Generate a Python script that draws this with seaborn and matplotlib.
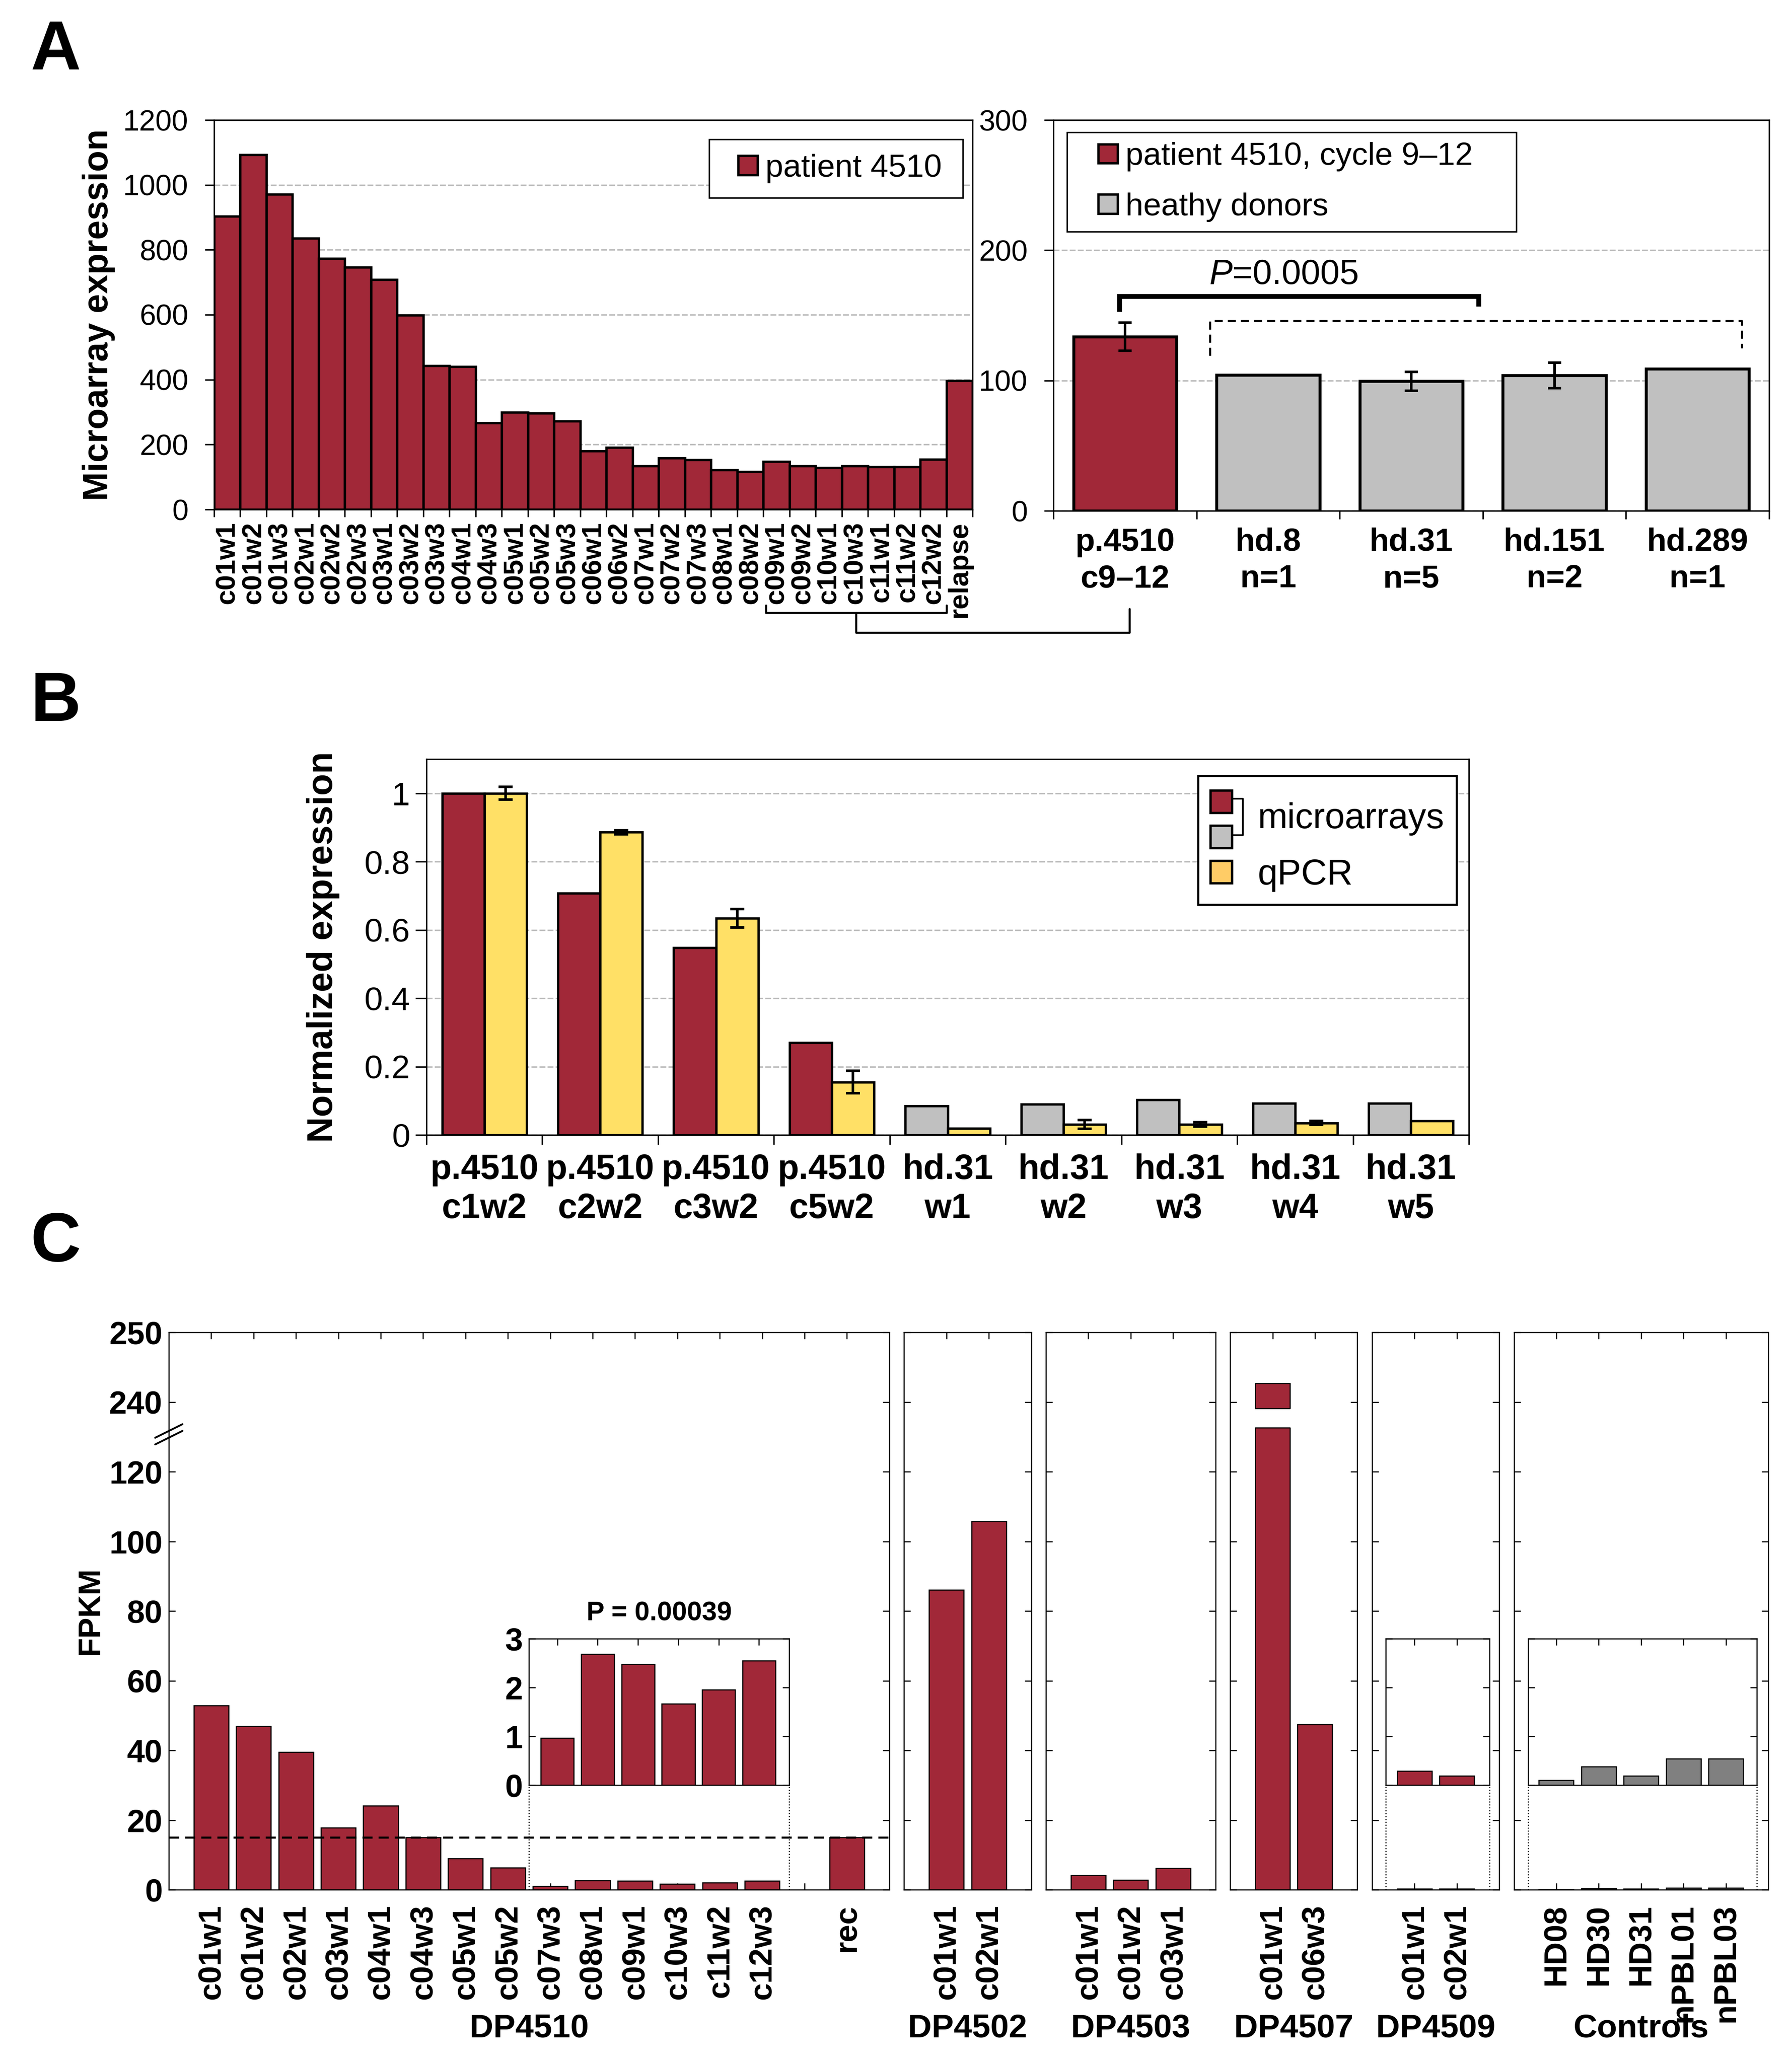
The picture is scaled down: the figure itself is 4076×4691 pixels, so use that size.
import numpy as np
import pandas as pd
import matplotlib
matplotlib.use("Agg")
import matplotlib.pyplot as plt
import seaborn as sns
from matplotlib.patches import Patch, Rectangle
from matplotlib.lines import Line2D
from matplotlib.legend_handler import HandlerPatch

# ---------------------------------------------------------------- data
# Panel A (left): microarray expression, patient 4510
a_samples = ["c01w1", "c01w2", "c01w3", "c02w1", "c02w2", "c02w3", "c03w1", "c03w2",
             "c03w3", "c04w1", "c04w3", "c05w1", "c05w2", "c05w3", "c06w1", "c06w2",
             "c07w1", "c07w2", "c07w3", "c08w1", "c08w2", "c09w1", "c09w2", "c10w1",
             "c10w3", "c11w1", "c11w2", "c12w2", "relapse"]
a_values = [903, 1093, 971, 836, 773, 746, 709, 599, 443, 440, 267, 300, 296, 272,
            180, 191, 134, 159, 153, 122, 116, 148, 134, 129, 134, 132, 131, 155, 397]
a_pool_first, a_pool_last = "c09w1", "c12w2"
a_legend = "patient 4510"

# Panel A (right): cycles 9-12 vs healthy donors
a2_groups = ["p.4510\nc9\u201312", "hd.8\nn=1", "hd.31\nn=5", "hd.151\nn=2", "hd.289\nn=1"]
a2_values = [133.7, 104.3, 99.5, 104.0, 109.0]
a2_errors = [10.8, 0.0, 7.3, 9.7, 0.0]
a2_kind = ["patient 4510, cycle 9\u201312", "heathy donors", "heathy donors",
           "heathy donors", "heathy donors"]
a2_pvalue = r"$\mathit{P}$=0.0005"

# Panel B: normalized expression
b_samples = ["p.4510\nc1w2", "p.4510\nc2w2", "p.4510\nc3w2", "p.4510\nc5w2",
             "hd.31\nw1", "hd.31\nw2", "hd.31\nw3", "hd.31\nw4", "hd.31\nw5"]
b_source = ["patient"] * 4 + ["donor"] * 5
b_microarray = [1.0, 0.707, 0.548, 0.270, 0.085, 0.090, 0.103, 0.092, 0.093]
b_qpcr = [1.0, 0.886, 0.634, 0.155, 0.019, 0.031, 0.031, 0.035, 0.041]
b_qpcr_err = [0.019, 0.006, 0.027, 0.033, 0.0, 0.013, 0.006, 0.006, 0.0]

# Panel C: FPKM
c4510_samples = ["c01w1", "c01w2", "c02w1", "c03w1", "c04w1", "c04w3", "c05w1",
                 "c05w2", "c07w3", "c08w1", "c09w1", "c10w3", "c11w2", "c12w3", "rec"]
c4510_values = [52.9, 46.9, 39.5, 17.8, 24.1, 15.0, 9.0, 6.3, 0.97, 2.69, 2.48,
                1.67, 1.96, 2.55, 15.0]
c4510_inset = ["c07w3", "c08w1", "c09w1", "c10w3", "c11w2", "c12w3"]
c4510_pvalue = "P = 0.00039"
c4502_samples = ["c01w1", "c02w1"]
c4502_values = [86.0, 105.7]
c4503_samples = ["c01w1", "c01w2", "c03w1"]
c4503_values = [4.2, 2.8, 6.2]
c4507_samples = ["c01w1", "c06w3"]
c4507_values = [242.7, 47.4]
c4509_samples = ["c01w1", "c02w1"]
c4509_values = [0.29, 0.19]
ctrl_samples = ["HD08", "HD30", "HD31", "nPBL01", "nPBL03"]
ctrl_values = [0.10, 0.38, 0.19, 0.54, 0.54]
c_yticks = [0, 20, 40, 60, 80, 100, 120, 240, 250]

# ---------------------------------------------------------------- style
sns.set_style("white")
plt.rcParams["font.family"] = ["Liberation Sans", "DejaVu Sans"]
plt.rcParams.update({
    "axes.edgecolor": "black", "axes.labelcolor": "black", "text.color": "black",
    "xtick.color": "black", "ytick.color": "black",
    "mathtext.fontset": "custom", "mathtext.rm": "Liberation Sans",
    "mathtext.it": "Liberation Sans:italic", "mathtext.bf": "Liberation Sans:bold",
})
RED = "#A12838"
LGRAY = "#C0C0C0"
YEL = "#FFE066"
YEL_LEG = "#FFCC66"
DGRAY = "#808080"
GRID = dict(color="#BBBBBB", linewidth=0.8, linestyle=(0, (4, 1.5)))

W, H = 4076, 4691
fig = plt.figure(figsize=(W / 300, H / 300), dpi=300)


def box(l, t, r, b):
    return [l / W, 1 - b / H, (r - l) / W, (b - t) / H]


def to_fig_x(ax, x):
    px = ax.transData.transform((x, 0))[0]
    return px / fig.bbox.width


def _right_square(legend, orig_handle, xdescent, ydescent, width, height, fontsize):
    # square legend key placed at the right end of the handle box
    return Rectangle((-xdescent + width - height, -ydescent), height, height)


SQUARE_KEY = {Patch: HandlerPatch(patch_func=_right_square)}

# ================================================================ Panel A left
axA = fig.add_axes(box(487, 273, 2212, 1159))
dfA = pd.DataFrame({"sample": a_samples, "value": a_values})
sns.barplot(data=dfA, x="sample", y="value", color=RED, saturation=1, width=1.0,
            edgecolor="black", linewidth=1.3, errorbar=None, ax=axA)
axA.set_xlim(-0.5, len(a_samples) - 0.5)
axA.set_ylim(0, 1200)
axA.set_yticks(range(0, 1201, 200), labels=[str(v) for v in range(0, 1201, 200)], fontsize=16)
axA.set_xticks(range(len(a_samples)), labels=a_samples, rotation=90,
               fontweight="bold", fontsize=15)
axA.set_xticks(np.arange(len(a_samples) + 1) - 0.5, minor=True)
axA.tick_params(axis="x", which="major", length=0, pad=6.5)
axA.tick_params(axis="x", which="minor", length=4, width=0.8, direction="out", bottom=True)
axA.tick_params(axis="y", length=5, width=0.8, direction="out", left=True, pad=9)
axA.yaxis.grid(True, **GRID)
axA.set_axisbelow(True)
axA.set_xlabel("")
axA.set_ylabel("Microarray expression", fontsize=19, fontweight="bold", va="center")
axA.yaxis.set_label_coords(-0.152, 0.5)
for s in axA.spines.values():
    s.set_linewidth(0.8)
lgA = axA.legend(handles=[Patch(facecolor=RED, edgecolor="black", linewidth=1.3)],
                 labels=[a_legend], loc="upper left", bbox_to_anchor=(0.653, 0.796, 0.334, 0.154),
                 mode="expand", borderaxespad=0, fontsize=17.5, frameon=True, fancybox=False,
                 edgecolor="black", framealpha=1, handlelength=1.05, handleheight=0.55,
                 handletextpad=0.25, borderpad=0.45, handler_map=SQUARE_KEY)
lgA.get_frame().set_linewidth(0.8)

# ================================================================ Panel A right
axA2 = fig.add_axes(box(2396, 273, 4024, 1162))
dfA2 = pd.DataFrame({"group": a2_groups, "value": a2_values, "kind": a2_kind})
kinds = list(dict.fromkeys(a2_kind))
sns.barplot(data=dfA2, x="group", y="value", hue="kind", hue_order=kinds,
            palette={kinds[0]: RED, kinds[1]: LGRAY}, dodge=False, saturation=1,
            width=0.72, edgecolor="black", linewidth=1.6, errorbar=None,
            legend=False, ax=axA2)
xa2 = np.arange(len(a2_groups))
err = np.array(a2_errors)
m = err > 0
axA2.errorbar(xa2[m], np.array(a2_values)[m], yerr=err[m], fmt="none",
              ecolor="black", elinewidth=1.4, capsize=3.6, capthick=1.4, zorder=5)
axA2.set_xlim(-0.5, len(a2_groups) - 0.5)
axA2.set_ylim(0, 300)
axA2.set_yticks([0, 100, 200, 300], labels=["0", "100", "200", "300"], fontsize=16)
axA2.set_xticks(xa2, labels=a2_groups, fontweight="bold", fontsize=17.5, linespacing=1.3)
axA2.set_xticks(np.arange(len(a2_groups) + 1) - 0.5, minor=True)
axA2.tick_params(axis="x", which="major", length=0, pad=9)
axA2.tick_params(axis="x", which="minor", length=4.5, width=0.8, direction="out", bottom=True)
axA2.tick_params(axis="y", length=5, width=0.8, direction="out", left=True, pad=9)
axA2.yaxis.grid(True, **GRID)
axA2.set_axisbelow(True)
axA2.set_xlabel("")
axA2.set_ylabel("")
for s in axA2.spines.values():
    s.set_linewidth(0.8)
# significance brackets
axA2.plot([-0.04, -0.04, 2.47, 2.47], [152.8, 164.8, 164.8, 157.0], color="black",
          lw=2.6, solid_joinstyle="miter", solid_capstyle="butt", zorder=6)
axA2.plot([0.594, 0.594, 4.31, 4.31], [119.0, 145.8, 145.8, 124.8], color="black",
          lw=1.1, linestyle=(0, (4, 2.5)), zorder=6)
axA2.text(1.11, 181.0, a2_pvalue, ha="center", va="center", fontsize=19)
lg2 = axA2.legend(handles=[Patch(facecolor=RED, edgecolor="black", linewidth=1.3),
                           Patch(facecolor=LGRAY, edgecolor="black", linewidth=1.3)],
                  labels=kinds, loc="upper left", bbox_to_anchor=(0.019, 0.719, 0.628, 0.249),
                  mode="expand", borderaxespad=0, fontsize=17.5, frameon=True, fancybox=False,
                  edgecolor="black", framealpha=1, handlelength=1.28, handleheight=0.55,
                  handletextpad=0.25, borderpad=0.3, labelspacing=0.65,
                  handler_map=SQUARE_KEY)
lg2.get_frame().set_linewidth(0.8)

# bracket linking cycles 9-12 to the right chart
i0 = a_samples.index(a_pool_first) - 0.4
i1 = a_samples.index(a_pool_last) + 0.5
imid = (i0 + i1) / 2
fx0, fx1, fxm = to_fig_x(axA, i0), to_fig_x(axA, i1), to_fig_x(axA, imid)
fxr = to_fig_x(axA2, 0.03)
fy = lambda py: 1 - py / H
fig.add_artist(Line2D([fx0, fx0, fx1, fx1], [fy(1377), fy(1394), fy(1394), fy(1377)],
                      color="black", lw=1.1, transform=fig.transFigure))
fig.add_artist(Line2D([fxm, fxm, fxr, fxr], [fy(1394), fy(1439), fy(1439), fy(1385)],
                      color="black", lw=1.1, transform=fig.transFigure))

# ================================================================ Panel B
axB = fig.add_axes(box(970, 1727, 3341, 2582))
dfB = pd.DataFrame({
    "sample": b_samples * 2,
    "value": b_microarray + b_qpcr,
    "method": ["microarrays"] * len(b_samples) + ["qPCR"] * len(b_samples),
})
sns.barplot(data=dfB, x="sample", y="value", hue="method", hue_order=["microarrays", "qPCR"],
            palette={"microarrays": RED, "qPCR": YEL}, saturation=1, width=0.73,
            edgecolor="black", linewidth=1.3, errorbar=None, legend=False, ax=axB)
for bar, src in zip(axB.containers[0], b_source):
    if src == "donor":
        bar.set_facecolor(LGRAY)
qx = np.array([b.get_x() + b.get_width() / 2 for b in axB.containers[1]])
qe = np.array(b_qpcr_err)
mq = qe > 0
axB.errorbar(qx[mq], np.array(b_qpcr)[mq], yerr=qe[mq], fmt="none", ecolor="black",
             elinewidth=1.4, capsize=3.8, capthick=1.4, zorder=5)
axB.set_xlim(-0.5, len(b_samples) - 0.5)
axB.set_ylim(0, 1.1)
axB.set_yticks([0, 0.2, 0.4, 0.6, 0.8, 1.0], labels=["0", "0.2", "0.4", "0.6", "0.8", "1"],
               fontsize=18)
axB.set_xticks(range(len(b_samples)), labels=b_samples, fontweight="bold", fontsize=19,
               linespacing=1.25)
axB.set_xticks(np.arange(len(b_samples) + 1) - 0.5, minor=True)
axB.tick_params(axis="x", which="major", length=0, pad=10)
axB.tick_params(axis="x", which="minor", length=5.3, width=0.8, direction="out", bottom=True)
axB.tick_params(axis="y", length=6, width=0.8, direction="out", left=True, pad=3)
axB.yaxis.grid(True, **GRID)
axB.set_axisbelow(True)
axB.set_xlabel("")
axB.set_ylabel("Normalized expression", fontsize=19.5, fontweight="bold", va="center")
axB.yaxis.set_label_coords(-(970 - 735) / (3341 - 970), 0.5)
for s in axB.spines.values():
    s.set_linewidth(0.8)
legB = axB.legend(handles=[Patch(facecolor=RED, edgecolor="black", linewidth=1.3),
                           Patch(facecolor=LGRAY, edgecolor="black", linewidth=1.3),
                           Patch(facecolor=YEL_LEG, edgecolor="black", linewidth=1.3)],
                  labels=["microarrays", " ", "qPCR"], loc="upper left",
                  bbox_to_anchor=(0.740, 0.956), borderaxespad=0, fontsize=19.5,
                  frameon=True, fancybox=False, edgecolor="black", framealpha=1,
                  handlelength=0.6, handleheight=0.6, handletextpad=0.72,
                  borderpad=0.35, labelspacing=0.05)
legB.get_frame().set_linewidth(1.2)

# ================================================================ Panel C
def fwd(y):
    y = np.asarray(y, dtype=float)
    return np.where(y <= 120, y, np.where(y <= 240, 120 + (y - 120) / 6.0, 140 + (y - 240) * 2.0))


def inv(u):
    u = np.asarray(u, dtype=float)
    return np.where(u <= 120, u, np.where(u <= 140, 120 + (u - 120) * 6.0, 240 + (u - 140) / 2.0))


C_TOP, C_BOT = 3031, 4299
UNIT, GAP, CX0 = 96.4, 33.5, 384.0
panels = [
    ("DP4510", c4510_samples, c4510_values, RED),
    ("DP4502", c4502_samples, c4502_values, RED),
    ("DP4503", c4503_samples, c4503_values, RED),
    ("DP4507", c4507_samples, c4507_values, RED),
    ("DP4509", c4509_samples, c4509_values, RED),
    ("Controls", ctrl_samples, ctrl_values, DGRAY),
]
c_axes = {}
left = CX0
for name, samples, values, color in panels:
    order = list(samples)
    if name == "DP4510":
        order = samples[:-1] + [" "] + samples[-1:]
    nunits = len(order) + 1
    right = left + nunits * UNIT
    ax = fig.add_axes(box(left, C_TOP, right, C_BOT))
    left = right + GAP
    df = pd.DataFrame({"sample": samples, "FPKM": values})
    sns.barplot(data=df, x="sample", y="FPKM", order=order, color=color, saturation=1,
                width=0.82, edgecolor="black", linewidth=0.6, errorbar=None, ax=ax)
    ax.set_yscale("function", functions=(fwd, inv))
    ax.set_ylim(0, 250)
    ax.set_xlim(-1, len(order))
    ax.set_yticks(c_yticks, labels=[str(v) for v in c_yticks], fontweight="bold", fontsize=17.5)
    ax.yaxis.set_minor_locator(matplotlib.ticker.NullLocator())
    ax.set_xticks(range(len(order)), labels=order, rotation=90, fontweight="bold", fontsize=17.3)
    ax.tick_params(axis="both", which="major", direction="in", length=3.5, width=0.6,
                   top=True, right=True, bottom=True, left=True)
    ax.tick_params(axis="x", pad=8)
    ax.tick_params(axis="y", pad=3.5, labelleft=(name == "DP4510"))
    ax.set_xlabel("")
    ax.set_ylabel("")
    for s in ax.spines.values():
        s.set_linewidth(0.6)
    ax.text(0.5, -0.249, name, transform=ax.transAxes, ha="center", va="center",
            fontsize=18, fontweight="bold")
    c_axes[name] = ax

# DP4510 details
ax10 = c_axes["DP4510"]
ax10.set_ylabel("FPKM", fontsize=17, fontweight="bold", va="center")
ax10.yaxis.set_label_coords(-0.1085, 0.5)
ax10.axhline(c4510_values[c4510_samples.index("rec")], color="black", lw=1.1,
             linestyle=(0, (5, 3)), zorder=4)
for yc in (0.823, 0.811):
    ax10.plot([-0.019, 0.019], [yc - 0.0122, yc + 0.0122], transform=ax10.transAxes,
              color="black", lw=1.0, clip_on=False, zorder=6)

# DP4507 broken bar
ax07 = c_axes["DP4507"]
bar07 = ax07.patches[c4507_samples.index("c01w1")]
bx, bw = bar07.get_x(), bar07.get_width()
ax07.add_patch(Rectangle((bx - 0.02, 196), bw + 0.04, 33, facecolor="white",
                         edgecolor="none", zorder=3))
ax07.plot([bx, bx + bw], [196, 196], color="black", lw=0.6, zorder=3.1)
ax07.plot([bx, bx + bw], [229, 229], color="black", lw=0.6, zorder=3.1)


def add_inset(ax, x0, x1, samples, values, color, xlim, labels=False, title=None):
    ins = ax.inset_axes([x0, 30, x1 - x0, 42], transform=ax.transData)
    df = pd.DataFrame({"sample": samples, "FPKM": values})
    sns.barplot(data=df, x="sample", y="FPKM", order=samples, color=color, saturation=1,
                width=0.82, edgecolor="black", linewidth=0.6, errorbar=None, ax=ins)
    ins.set_xlim(*xlim)
    ins.set_ylim(0, 3)
    ins.set_yticks([0, 1, 2, 3], labels=["0", "1", "2", "3"], fontweight="bold", fontsize=17.5)
    ins.set_xlabel("")
    ins.set_ylabel("")
    ins.tick_params(axis="both", direction="in", length=3.5, width=0.6, top=True,
                    right=True, left=True, bottom=False, labelbottom=False,
                    labelleft=labels, pad=3.5)
    for s in ins.spines.values():
        s.set_linewidth(0.6)
    if title:
        ins.set_title(title, fontsize=14.7, fontweight="bold", pad=10)
    for xx in (x0, x1):
        ax.plot([xx, xx], [0, 30], color="black", lw=0.6, linestyle=":", zorder=4)
    return ins


inset_vals = [c4510_values[c4510_samples.index(s)] for s in c4510_inset]
add_inset(ax10, 7.5, 13.64, c4510_inset, inset_vals, RED, (-0.7, 5.75), labels=True,
          title=c4510_pvalue)
add_inset(c_axes["DP4509"], -0.68, 1.77, c4509_samples, c4509_values, RED, (-0.68, 1.77))
add_inset(c_axes["Controls"], -0.66, 4.73, ctrl_samples, ctrl_values, DGRAY, (-0.66, 4.73))

# panel letters
for letter, yc in (("A", 0.975), ("B", 0.659), ("C", 0.397)):
    fig.text(0.031, yc, letter, fontsize=38, fontweight="bold", ha="center", va="center")

# ---------------------------------------------------------------- B legend bracket
fig.canvas.draw()
texts = legB.get_texts()
hds = legB.legend_handles
tb = texts[0].get_window_extent()
h0 = hds[0].get_window_extent()
h1 = hds[1].get_window_extent()
invf = fig.transFigure.inverted()
ymid = (h0.y0 + h0.y1 + h1.y0 + h1.y1) / 4
texts[0].set_visible(False)
tx, ty = invf.transform((tb.x0, ymid))
fig.text(tx, ty, "microarrays", fontsize=19.5, ha="left", va="center")
c0 = (h0.y0 + h0.y1) / 2 + 6
c1 = (h1.y0 + h1.y1) / 2 + 3
xa, xb = h0.x1 + 3, h0.x1 + 25
pts = invf.transform(np.array([[xa, c0], [xb, c0], [xb, c1], [xa, c1]]))
fig.add_artist(Line2D(pts[:, 0], pts[:, 1], color="black", lw=0.9, transform=fig.transFigure))

fig.savefig("out.png", dpi=300)
